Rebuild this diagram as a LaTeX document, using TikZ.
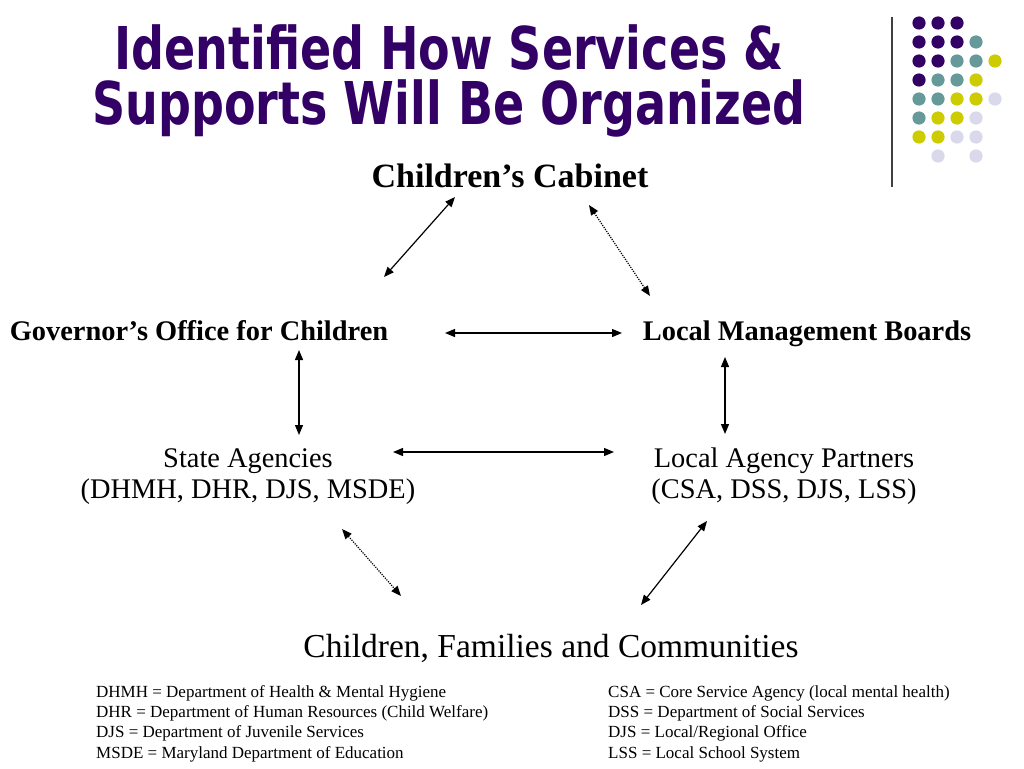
\documentclass[tikz,border=0pt]{standalone}
\usepackage{fontspec}
\setmainfont{Liberation Serif}
\newfontfamily\titlefont[FakeStretch=0.78]{DejaVu Sans}
\usetikzlibrary{arrows.meta}

\definecolor{titlepurple}{HTML}{330066}
\definecolor{dotP}{HTML}{330066}
\definecolor{dotT}{HTML}{669999}
\definecolor{dotY}{HTML}{CCCC00}
\definecolor{dotL}{HTML}{D9D9EB}
\definecolor{dotN}{HTML}{FFFFFF}

\begin{document}
\begin{tikzpicture}[
      x=1pt, y=-1pt,
      every node/.style={align=center, inner sep=0pt},
      heading/.style={font=\titlefont\bfseries\fontsize{59}{55}\selectfont, text=titlepurple},
      boldlabel/.style={font=\fontsize{28.4}{32}\selectfont\bfseries},
      plainlabel/.style={font=\fontsize{28.4}{31}\selectfont},
      biglabel/.style={font=\fontsize{33.5}{40}\selectfont},
      legend/.style={font=\fontsize{17}{20.4}\selectfont, align=left, anchor=north west},
      link/.style={{Triangle[length=10pt,width=8pt]}-{Triangle[length=10pt,width=8pt]}, line width=1.2pt},
      dotlink/.style={link, dash pattern=on 1.2pt off 1.2pt}
    ]
      \useasboundingbox[fill=white] (0,0) rectangle (1024,768);

% Title and dots
      \node[heading] (title) at (449,81) {Identified How Services \&\\Supports Will Be Organized};
      \draw[line width=1.3pt, black!75] (892,17) -- (892,187);
      \foreach \cols [count=\j from 0] in {{P,P,P},{P,P,P,T},{P,P,T,T,Y},{P,T,T,Y},
          {T,T,Y,Y,L},{T,Y,Y,L},{Y,Y,L,L},{N,L,N,L}}
        \foreach \c [count=\i from 0] in \cols
          \fill[dot\c] (919+19*\i, 23+19*\j) circle (6.6);

% Nodes
      \node[boldlabel, font=\fontsize{34}{40}\selectfont\bfseries, anchor=base] (cab) at (510,187) {Children’s Cabinet};
      \node[boldlabel, anchor=base] (gov) at (199,340) {Governor’s Office for Children};
      \node[boldlabel, anchor=base] (lmb) at (807,340) {Local Management Boards};
      \node[plainlabel, anchor=base] (sa) at (248,498) {State Agencies\\(DHMH, DHR, DJS, MSDE)};
      \node[plainlabel, anchor=base] (lap) at (784,498) {Local Agency Partners\\(CSA, DSS, DJS, LSS)};
      \node[biglabel, anchor=base] (cfc) at (551,657) {Children, Families and Communities};

      \node[legend] (keyleft) at (96,685) {DHMH = Department of Health \& Mental Hygiene\\
      DHR = Department of Human Resources (Child Welfare)\\
      DJS = Department of Juvenile Services\\
      MSDE = Maryland Department of Education};
      \node[legend] (keyright) at (608,685) {CSA = Core Service Agency (local mental health)\\
      DSS = Department of Social Services\\
      DJS = Local/Regional Office\\
      LSS = Local School System};

% Connections
      \draw[link] ([shift={(-55,10)}]cab.base) -- ([shift={(185,-63)}]gov.base);
      \draw[dotlink] ([shift={(79,18)}]cab.base) -- ([shift={(-157,-44)}]lmb.base);
      \draw[link] ([shift={(246,-7)}]gov.base) -- ([shift={(-185,-7)}]lmb.base);
      \draw[link] ([shift={(100,10)}]gov.base) -- ([shift={(51,-63)}]sa.base);
      \draw[link] ([shift={(-82,17)}]lmb.base) -- ([shift={(-59,-64)}]lap.base);
      \draw[link] ([shift={(145,-46)}]sa.base) -- ([shift={(-170,-46)}]lap.base);
      \draw[dotlink] ([shift={(94,31)}]sa.base) -- ([shift={(-150,-61)}]cfc.base);
      \draw[link] ([shift={(-77,23)}]lap.base) -- ([shift={(90,-52)}]cfc.base);

    \end{tikzpicture}
\end{document}
